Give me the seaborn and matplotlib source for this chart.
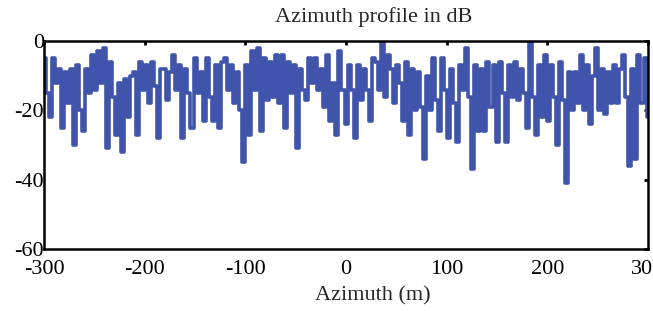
import numpy as np
import pandas as pd
import matplotlib
matplotlib.use('Agg')
import matplotlib.pyplot as plt
import seaborn as sns

#%% values (3 m step, dB)
azimuth = np.arange(-300, 301, 3)

level_db = [
    # -300 .. -273
    -5, -15, -22, -5, -12, -8, -25, -9, -18, -8,
    # -270 .. -243
    -30, -7, -20, -26, -8, -15, -4, -14, -3, -12,
    # -240 .. -213
    -2, -31, -6, -16, -27, -12, -32, -11, -22, -10,
    # -210 .. -183
    -9, -27, -6, -14, -7, -18, -6, -13, -28, -8,
    # -180 .. -153
    -8, -17, -9, -4, -14, -7, -28, -8, -15, -25,
    # -150 .. -123
    -5, -15, -9, -23, -5, -16, -23, -7, -25, -6,
    # -120 .. -93
    -5, -14, -7, -18, -9, -20, -35, -7, -27, -3,
    # -90 .. -63
    -14, -2, -26, -5, -17, -6, -16, -4, -18, -4,
    # -60 .. -33
    -25, -6, -15, -7, -31, -8, -14, -17, -5, -12,
    # -30 .. -3
    -5, -14, -8, -19, -4, -23, -12, -27, -3, -14,
    # 0 .. 27
    -24, -7, -14, -28, -7, -17, -8, -14, -23, -5,
    # 30 .. 57
    -6, -14, 0, -16, -4, -8, -18, -7, -12, -23,
    # 60 .. 87
    -6, -27, -8, -20, -9, -19, -34, -10, -20, -5,
    # 90 .. 117
    -17, -26, -5, -14, -28, -8, -18, -29, -7, -14,
    # 120 .. 147
    -2, -16, -37, -7, -26, -8, -26, -6, -19, -7,
    # 150 .. 177
    -29, -6, -15, -29, -7, -16, -6, -17, -8, -15,
    # 180 .. 207
    -25, 0, -16, -27, -7, -22, -4, -23, -7, -16,
    # 210 .. 237
    -30, -6, -17, -41, -9, -20, -9, -18, -4, -20,
    # 240 .. 267
    -7, -24, -10, -2, -20, -8, -21, -9, -18, -7,
    # 270 .. 300
    -18, -8, -4, -16, -36, -8, -34, -4, -18, -5, -22,
]

x_ticks = [-300, -200, -100, 0, 100, 200, 300]
y_ticks = [0, -20, -40, -60]

df = pd.DataFrame({'azimuth': azimuth, 'level': level_db})

#%% plot
sns.set_style('white')
plt.rcParams['font.family'] = ['Liberation Serif', 'DejaVu Serif']
plt.rcParams['axes.unicode_minus'] = False

fig = plt.figure(figsize=(6.53, 3.11), dpi=100)
ax = fig.add_axes([0.0674, 0.1994, 0.925, 0.6686])

sns.lineplot(data=df, x='azimuth', y='level', color='#3f54aa', linewidth=2.6,
             drawstyle='steps-mid', ax=ax)

ax.set_xlim(-300, 300)
ax.set_ylim(-60, 0)
ax.set_xticks(x_ticks)
ax.set_yticks(y_ticks)
ax.tick_params(axis='both', direction='in', length=3, width=2, labelsize=16,
               top=True, right=True, colors='black')
ax.tick_params(axis='y', pad=0)
ax.tick_params(axis='x', pad=8)

for sp in ax.spines.values():
    sp.set_color('black')
    sp.set_linewidth(1.8)

ax.set_xlabel('Azimuth (m)', fontsize=16, va='center')
ax.xaxis.set_label_coords(0.545, -0.225)
ax.set_ylabel('')
ax.text(0.545, 1.115, 'Azimuth profile in dB', transform=ax.transAxes,
        ha='center', va='center', fontsize=16)

fig.savefig('out.png', dpi=100)
